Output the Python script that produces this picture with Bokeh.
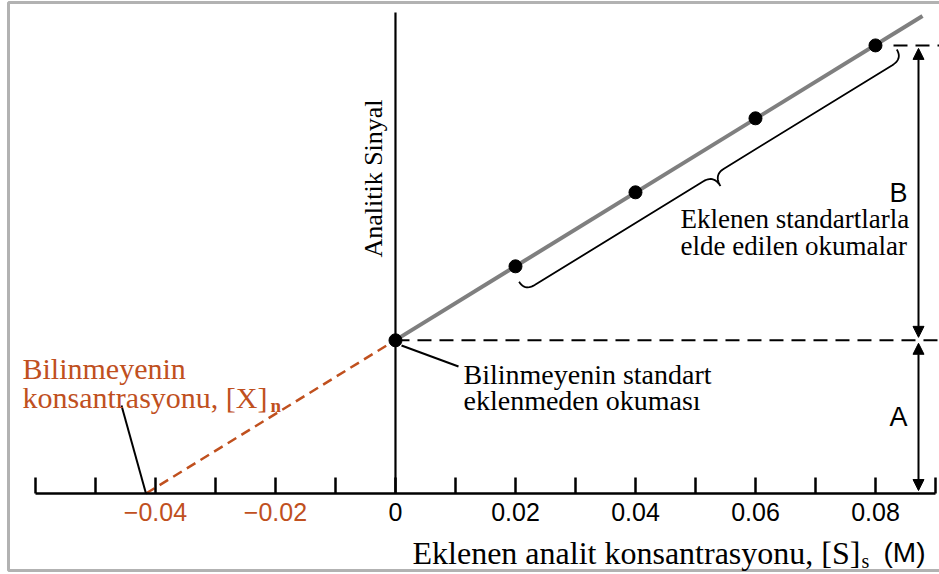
import numpy as np
from bokeh.plotting import figure
from bokeh.models import (Range1d, LinearAxis, FixedTicker, CustomJSTickFormatter,
                          Arrow, NormalHead, BoxAnnotation)
from bokeh.core.properties import value
from bokeh.embed import file_html
from bokeh.resources import INLINE

# ---------------- data ----------------
added_conc = [0.0, 0.02, 0.04, 0.06, 0.08]          # [S]s (M)
signal = [0.414, 0.614, 0.814, 1.014, 1.211]         # analytical signal
tick_positions = [round(-0.06 + 0.01 * i, 2) for i in range(16)]
black_tick_values = [0.0, 0.02, 0.04, 0.06, 0.08]
orange_tick_values = [-0.04, -0.02]

ORANGE = "#c0501e"
SERIF = "Liberation Serif"
SANS = "Liberation Sans"

# ---------------- canvas / scales ----------------
W, H = 939, 574
X0, X1 = -0.06583, 0.09067
Y0, Y1 = -0.2189, 1.3324


def px_x(px):
    return X0 + px * (X1 - X0) / W


def px_y(py):
    return Y1 - py * (Y1 - Y0) / H


def sx(x):
    return (x - X0) * W / (X1 - X0)


def sy(y):
    return (Y1 - y) * H / (Y1 - Y0)


p = figure(width=W, height=H, x_range=Range1d(X0, X1), y_range=Range1d(Y0, Y1),
           output_backend="svg", toolbar_location=None, min_border=0,
           x_axis_type=None, y_axis_type=None)
p.outline_line_color = None
p.background_fill_color = "white"

# ---------------- axis at signal = 0 ----------------
ax_ticks = LinearAxis(ticker=FixedTicker(ticks=tick_positions), fixed_location=0,
                      bounds=(-0.06, 0.09), axis_line_width=2.5, axis_line_color="black",
                      major_tick_in=16, major_tick_out=0, major_tick_line_width=2.5,
                      major_tick_line_color="black", minor_tick_line_color=None,
                      formatter=CustomJSTickFormatter(code="return ''"))
ax_black = LinearAxis(ticker=FixedTicker(ticks=black_tick_values), fixed_location=0,
                      axis_line_color=None, major_tick_line_color=None,
                      minor_tick_line_color=None, major_label_standoff=3,
                      major_label_text_font=SANS, major_label_text_font_size="25px",
                      major_label_text_color="black",
                      formatter=CustomJSTickFormatter(
                          code="return tick == 0 ? '0' : tick.toFixed(2)"))
ax_orange = LinearAxis(ticker=FixedTicker(ticks=orange_tick_values), fixed_location=0,
                       axis_line_color=None, major_tick_line_color=None,
                       minor_tick_line_color=None, major_label_standoff=3,
                       major_label_text_font=SANS, major_label_text_font_size="25px",
                       major_label_text_color=ORANGE,
                       formatter=CustomJSTickFormatter(
                           code="return '\u2212' + Math.abs(tick).toFixed(2)"))
for a in (ax_ticks, ax_black, ax_orange):
    p.add_layout(a, "below")

# ---------------- fit ----------------
m, b = np.polyfit(added_conc, signal, 1)
x_int = -b / m

# vertical signal axis at [S]s = 0
p.segment(x0=[0], y0=[0], x1=[0], y1=[px_y(12)], line_color="black", line_width=2.2)

# extrapolation (dashed orange)
p.line([x_int, 0], [0, b], line_color=ORANGE, line_width=2.5, line_dash="10 6")

# calibration line (gray)
x_end = px_x(922)
p.line([0, x_end], [b, m * x_end + b], line_color="#7f7f7f", line_width=4)

# horizontal dashed levels
p.line([0, X1], [signal[0], signal[0]], line_color="black", line_width=2, line_dash="14 8")
p.line([px_x(893), X1], [signal[-1], signal[-1]], line_color="black", line_width=2,
       line_dash="14 8")

# points
p.scatter(added_conc, signal, size=13, color="black")

# ---------------- arrows A and B ----------------
xa = px_x(918)
gap = 0.008


def head():
    return NormalHead(size=11, fill_color="black", line_color="black")


p.add_layout(Arrow(start=head(), end=head(), x_start=xa, y_start=signal[0] + gap,
                   x_end=xa, y_end=signal[-1] - gap, line_width=2, line_color="black"))
p.add_layout(Arrow(start=head(), end=head(), x_start=xa, y_start=0 + gap,
                   x_end=xa, y_end=signal[0] - gap, line_width=2, line_color="black"))
p.text(x=[px_x(898), px_x(898)], y=[(signal[0] + signal[-1]) / 2, signal[0] / 2],
       text=["B", "A"], text_font=value(SANS), text_font_size="27px",
       text_align="center", text_baseline="middle", text_color="black")

# ---------------- brace along the standards ----------------
Ox, Oy = sx(0), sy(b)
ux, uy = sx(0.01) - sx(0), sy(b + 0.01 * m) - sy(b)
L = np.hypot(ux, uy)
ux, uy = ux / L, uy / L
nx, ny = -uy, ux


def s_of(x, y):
    return (sx(x) - Ox) * ux + (sy(y) - Oy) * uy


s_a = s_of(added_conc[1], signal[1]) - 5
s_b = s_of(added_conc[-1], signal[-1]) + 16
s_m = (s_a + s_b) / 2
t_end, t_mid, t_tip, r = 15, 26, 39, 12


def bez(p0, p1, p2, n=14):
    t = np.linspace(0, 1, n)[:, None]
    p0, p1, p2 = map(np.array, (p0, p1, p2))
    return (1 - t) ** 2 * p0 + 2 * (1 - t) * t * p1 + t ** 2 * p2


pts = np.vstack([
    bez((s_a, t_end), (s_a, t_mid), (s_a + r, t_mid)),
    bez((s_m - r, t_mid), (s_m, t_mid), (s_m, t_tip)),
    bez((s_m, t_tip), (s_m, t_mid), (s_m + r, t_mid)),
    bez((s_b - r, t_mid), (s_b, t_mid), (s_b, t_end)),
])
bx = [px_x(Ox + s * ux + t * nx) for s, t in pts]
by = [px_y(Oy + s * uy + t * ny) for s, t in pts]
p.line(bx, by, line_color="black", line_width=1.8)

# ---------------- pointer lines ----------------
p.segment(x0=[px_x(121)], y0=[px_y(405)], x1=[x_int], y1=[0], line_color="black", line_width=2)
p.segment(x0=[px_x(401)], y0=[px_y(345)], x1=[px_x(458)], y1=[px_y(366)],
          line_color="black", line_width=2)

# ---------------- texts ----------------
p.text(x=[px_x(22), px_x(22)], y=[px_y(368), px_y(397)],
       text=["Bilinmeyenin", "konsantrasyonu, [X]"], text_font=value(SERIF),
       text_font_size="30px", text_baseline="alphabetic", text_align="left",
       text_color=ORANGE)
p.text(x=[px_x(270)], y=[px_y(405)], text=["n"], text_font=value(SERIF),
       text_font_size="19px", text_font_style="bold", text_baseline="alphabetic",
       text_align="left", text_color=ORANGE)

p.text(x=[px_x(463), px_x(463)], y=[px_y(374), px_y(400)],
       text=["Bilinmeyenin standart", "eklenmeden okuması"], text_font=value(SERIF),
       text_font_size="28px", text_baseline="alphabetic", text_align="left",
       text_color="black")

p.text(x=[px_x(680), px_x(680)], y=[px_y(218), px_y(245)],
       text=["Eklenen standartlarla", "elde edilen okumalar"], text_font=value(SERIF),
       text_font_size="27px", text_baseline="alphabetic", text_align="left",
       text_color="black")

p.text(x=[px_x(373)], y=[px_y(178)], text=["Analitik Sinyal"], angle=np.pi / 2,
       text_font=value(SERIF), text_font_size="26px", text_baseline="middle",
       text_align="center", text_color="black")

# x-axis title pieces
p.text(x=[px_x(412)], y=[px_y(552)], text=["Eklenen analit konsantrasyonu, [S]"],
       text_font=value(SERIF), text_font_size="32px", text_baseline="alphabetic",
       text_align="left", text_color="black")
p.text(x=[px_x(861)], y=[px_y(560)], text=["s"], text_font=value(SERIF),
       text_font_size="20px", text_baseline="alphabetic", text_align="left",
       text_color="black")
p.text(x=[px_x(883)], y=[px_y(552)], text=["(M)"], text_font=value(SANS),
       text_font_size="28px", text_baseline="alphabetic", text_align="left",
       text_color="black")

# ---------------- picture frame ----------------
p.add_layout(BoxAnnotation(left=px_x(8), right=px_x(980), top=px_y(2), bottom=px_y(570),
                           fill_alpha=0, line_color="black", line_width=3))

open("out.html", "w").write(file_html(p, INLINE))
